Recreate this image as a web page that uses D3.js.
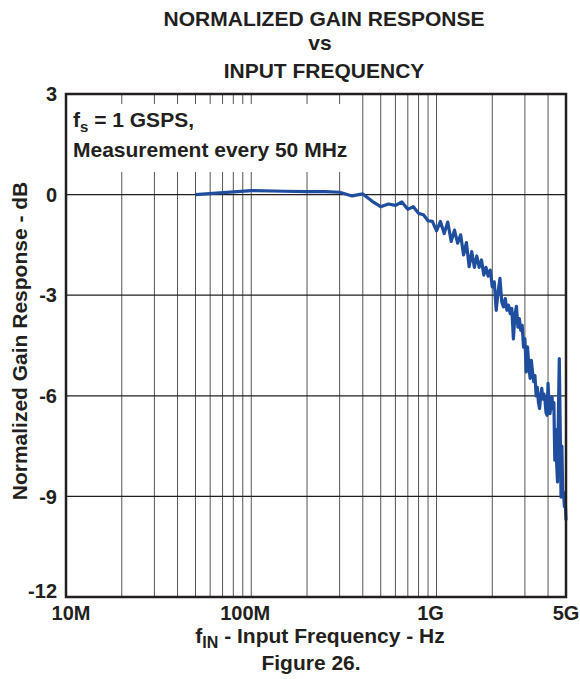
<!DOCTYPE html>
<html>
<head>
<meta charset="utf-8">
<script src="https://cdn.jsdelivr.net/npm/d3@7"></script>
<style>
  body { margin: 0; background: #fff; }
  text { font-family: "Liberation Sans", Arial, sans-serif; font-weight: bold; fill: #231f20; }
</style>
</head>
<body>
<script>
// DATA
const freqMHz = [50, 100, 150, 200, 250, 300, 350, 400, 450, 500,
  550, 600, 650, 700, 750, 800, 850, 900, 950, 1000,
  1050, 1100, 1150, 1200, 1250, 1300, 1350, 1400, 1450, 1500,
  1550, 1600, 1650, 1700, 1750, 1800, 1850, 1900, 1950, 2000,
  2050, 2100, 2150, 2200, 2250, 2300, 2350, 2400, 2450, 2500,
  2550, 2600, 2650, 2700, 2750, 2800, 2850, 2900, 2950, 3000,
  3050, 3100, 3150, 3200, 3250, 3300, 3350, 3400, 3450, 3500,
  3550, 3600, 3650, 3700, 3750, 3800, 3850, 3900, 3950, 4000,
  4050, 4100, 4150, 4200, 4250, 4300, 4350, 4400, 4450, 4500,
  4550, 4600, 4650, 4700, 4750, 4800, 4850, 4900, 4950, 5000];

const gainDB = [0.00, 0.12, 0.10, 0.09, 0.09, 0.07, -0.04, 0.02, -0.20, -0.36,
  -0.28, -0.32, -0.22, -0.44, -0.36, -0.56, -0.60, -0.78, -0.80, -1.08,
  -0.80, -1.16, -0.82, -1.40, -1.06, -1.45, -1.20, -1.80, -1.43, -2.15,
  -1.70, -2.17, -1.83, -2.17, -1.95, -2.40, -2.17, -2.43, -2.25, -2.75,
  -2.60, -3.45, -2.90, -2.50, -3.20, -3.35, -3.10, -3.45, -3.30, -3.55,
  -3.40, -4.30, -3.60, -3.33, -3.95, -3.70, -4.05, -3.90, -4.55, -4.30,
  -5.29, -4.54, -5.10, -5.48, -4.94, -5.30, -5.58, -5.40, -6.00, -5.75,
  -6.20, -6.38, -6.00, -5.78, -6.10, -5.95, -6.13, -6.50, -6.58, -5.63,
  -6.30, -6.53, -6.20, -6.03, -6.40, -6.20, -7.92, -7.00, -8.00, -8.57,
  -6.50, -4.89, -6.83, -9.02, -7.50, -8.82, -8.90, -9.30, -9.10, -9.71];

const gridFreqs = [20, 30, 40, 50, 60, 70, 80, 90, 100,
  200, 300, 400, 500, 600, 700, 800, 900, 1000, 2000, 3000, 4000];
const xTickValues = [10, 100, 1000, 5000];
const xTickLabels = ["10M", "100M", "1G", "5G"];
const yTickValues = [3, 0, -3, -6, -9, -12];

// CREATE VALUES
const W = 580, H = 679;
const plot = {left: 66, right: 566, top: 94, bottom: 597};

const svg = d3.select("body").append("svg")
  .attr("width", W)
  .attr("height", H);

// SCALES
const x = d3.scaleLog().domain([10, 5000]).range([plot.left, plot.right]);
const y = d3.scaleLinear().domain([-12, 3]).range([plot.bottom, plot.top]);

// GRID
svg.append("g")
  .selectAll("line")
  .data(gridFreqs)
  .join("line")
  .attr("x1", d => x(d)).attr("x2", d => x(d))
  .attr("y1", plot.top).attr("y2", plot.bottom)
  .attr("stroke", "#555")
  .attr("stroke-width", 1);

svg.append("g")
  .selectAll("line")
  .data(yTickValues.filter(d => d > -12 && d < 3))
  .join("line")
  .attr("x1", plot.left).attr("x2", plot.right)
  .attr("y1", d => y(d)).attr("y2", d => y(d))
  .attr("stroke", "#231f20")
  .attr("stroke-width", 1.2);

// NOTE BOX (hides grid behind the text)
svg.append("rect")
  .attr("x", plot.left + 1)
  .attr("y", 104)
  .attr("width", 287)
  .attr("height", 68)
  .attr("fill", "#fff");

const note1 = svg.append("text")
  .attr("x", 73)
  .attr("y", 127)
  .style("font-size", "21px");
note1.append("tspan").text("f");
note1.append("tspan").attr("baseline-shift", "-30%").style("font-size", "15px").text("s");
note1.append("tspan").text(" = 1 GSPS,");

svg.append("text")
  .attr("x", 73)
  .attr("y", 157)
  .style("font-size", "21px")
  .text("Measurement every 50 MHz");

// LINE
svg.append("path")
  .datum(freqMHz.map((f, i) => ({f: f, v: gainDB[i]})))
  .attr("fill", "none")
  .attr("stroke", "#1f4e9f")
  .attr("stroke-width", 3.2)
  .attr("stroke-linejoin", "round")
  .attr("d", d3.line()
    .x(d => x(d.f))
    .y(d => y(d.v)));

// FRAME
svg.append("rect")
  .attr("x", plot.left)
  .attr("y", plot.top)
  .attr("width", plot.right - plot.left)
  .attr("height", plot.bottom - plot.top)
  .attr("fill", "none")
  .attr("stroke", "#231f20")
  .attr("stroke-width", 2.5);

// Y TICK LABELS (the bottom one sits on the frame line)
svg.append("g")
  .selectAll("text")
  .data(yTickValues)
  .join("text")
  .attr("x", 57)
  .attr("y", d => y(d))
  .attr("dy", d => d === -12 ? "0.05em" : "0.36em")
  .attr("text-anchor", "end")
  .style("font-size", "20px")
  .text(d => d);

// X TICK LABELS
svg.append("g")
  .selectAll("text")
  .data(xTickValues)
  .join("text")
  .attr("x", d => x(d))
  .attr("dx", (d, i) => i === 0 ? 5 : (i === xTickValues.length - 1 ? 0 : -6))
  .attr("y", 620)
  .attr("text-anchor", "middle")
  .style("font-size", "20px")
  .text((d, i) => xTickLabels[i]);

// TITLE
const titleLines = ["NORMALIZED GAIN RESPONSE", "vs", "INPUT FREQUENCY"];
const titleY = [26, 50, 78];
svg.append("g")
  .selectAll("text")
  .data(titleLines)
  .join("text")
  .attr("x", (d, i) => i === 1 ? 320 : 324)
  .attr("y", (d, i) => titleY[i])
  .attr("text-anchor", "middle")
  .style("font-size", "21px")
  .text(d => d);

// Y AXIS LABEL
svg.append("text")
  .attr("transform", `translate(27,341) rotate(-90)`)
  .attr("text-anchor", "middle")
  .style("font-size", "21px")
  .text("Normalized Gain Response - dB");

// X AXIS LABEL
const xl = svg.append("text")
  .attr("x", 320)
  .attr("y", 643)
  .attr("text-anchor", "middle")
  .style("font-size", "21px");
xl.append("tspan").text("f");
xl.append("tspan").attr("baseline-shift", "-30%").style("font-size", "16px").text("IN");
xl.append("tspan").attr("baseline-shift", "0%").text(" - Input Frequency - Hz");

svg.append("text")
  .attr("x", 311)
  .attr("y", 670)
  .attr("text-anchor", "middle")
  .style("font-size", "21px")
  .text("Figure 26.");
</script>
</body>
</html>
